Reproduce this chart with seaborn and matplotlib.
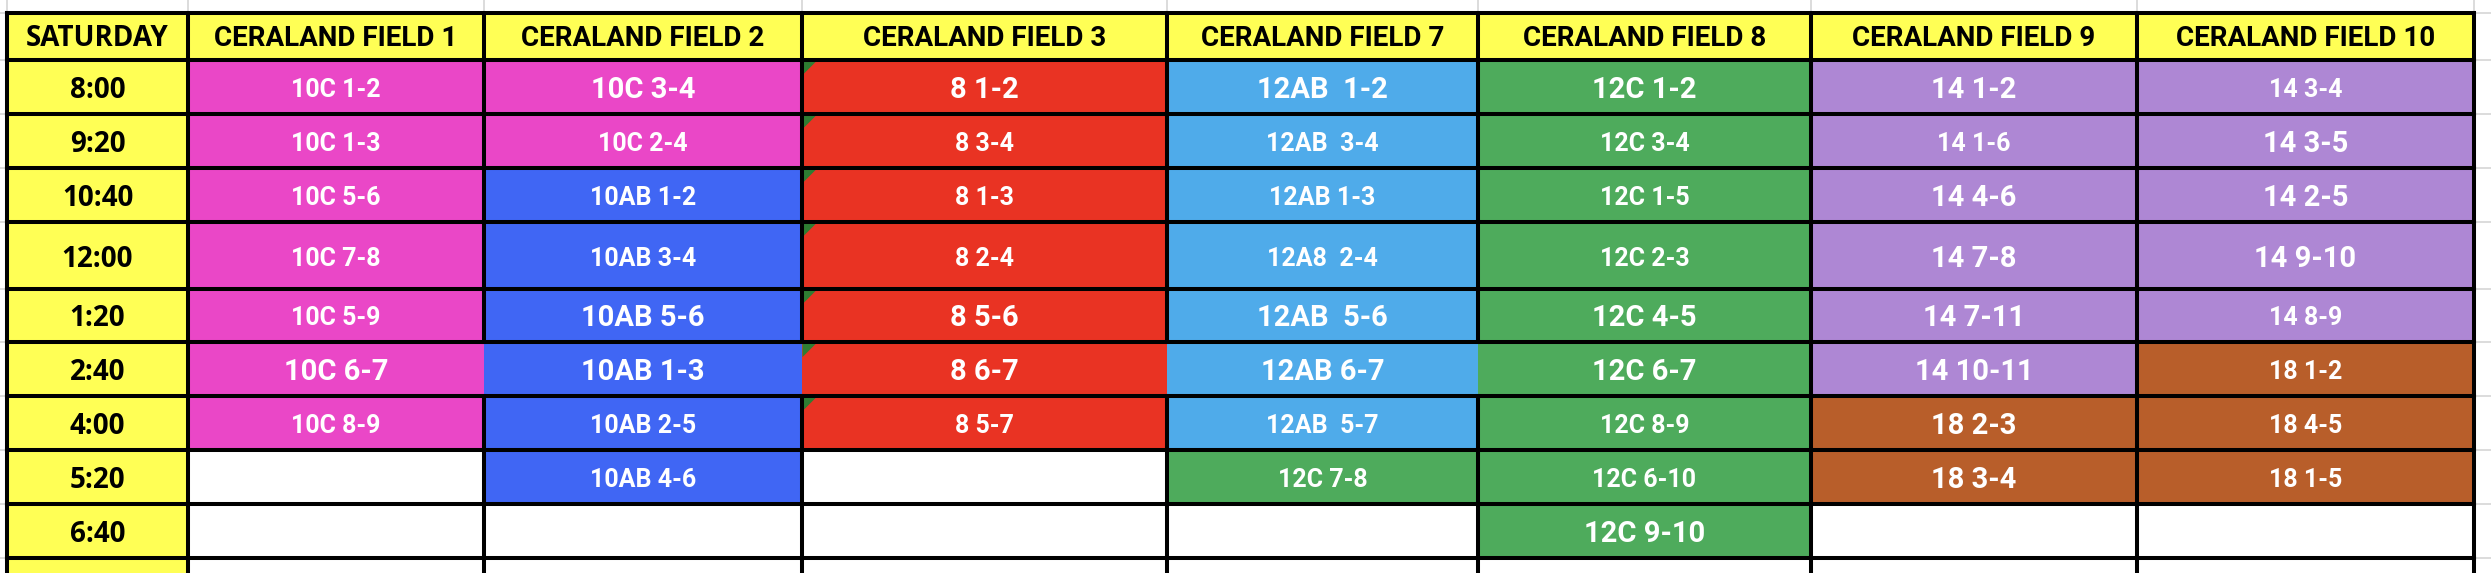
import matplotlib
matplotlib.use("Agg")
import matplotlib.pyplot as plt
import numpy as np
import seaborn as sns
from matplotlib.colors import ListedColormap
from matplotlib.path import Path

sns.set_theme(style="white")
plt.rcParams["font.family"] = ["Roboto", "DejaVu Sans"]

# --- schedule data ---
day = "SATURDAY"
fields = ["CERALAND FIELD 1", "CERALAND FIELD 2", "CERALAND FIELD 3", "CERALAND FIELD 7",
          "CERALAND FIELD 8", "CERALAND FIELD 9", "CERALAND FIELD 10"]
times = ["8:00", "9:20", "10:40", "12:00", "1:20", "2:40", "4:00", "5:20", "6:40"]

field_1 = ["10C 1-2", "10C 1-3", "10C 5-6", "10C 7-8", "10C 5-9", "10C 6-7", "10C 8-9", "", ""]
field_2 = ["10C 3-4", "10C 2-4", "10AB 1-2", "10AB 3-4", "10AB 5-6", "10AB 1-3", "10AB 2-5", "10AB 4-6", ""]
field_3 = ["8 1-2", "8 3-4", "8 1-3", "8 2-4", "8 5-6", "8 6-7", "8 5-7", "", ""]
field_7 = ["12AB  1-2", "12AB  3-4", "12AB 1-3", "12A8  2-4", "12AB  5-6", "12AB 6-7", "12AB  5-7", "12C 7-8", ""]
field_8 = ["12C 1-2", "12C 3-4", "12C 1-5", "12C 2-3", "12C 4-5", "12C 6-7", "12C 8-9", "12C 6-10", "12C 9-10"]
field_9 = ["14 1-2", "14 1-6", "14 4-6", "14 7-8", "14 7-11", "14 10-11", "18 2-3", "18 3-4", ""]
field_10 = ["14 3-4", "14 3-5", "14 2-5", "14 9-10", "14 8-9", "18 1-2", "18 4-5", "18 1-5", ""]

# 1 = bigger font in that cell
big_1 = [0, 0, 0, 0, 0, 1, 0, 0, 0]
big_2 = [1, 0, 0, 0, 1, 1, 0, 0, 0]
big_3 = [1, 0, 0, 0, 1, 1, 0, 0, 0]
big_7 = [1, 0, 0, 0, 1, 1, 0, 0, 0]
big_8 = [1, 0, 0, 0, 1, 1, 0, 0, 1]
big_9 = [1, 0, 1, 1, 1, 1, 1, 1, 0]
big_10 = [0, 1, 1, 1, 0, 0, 0, 0, 0]

games = [field_1, field_2, field_3, field_7, field_8, field_9, field_10]
bigs = [big_1, big_2, big_3, big_7, big_8, big_9, big_10]

# division colours
divisions = ["10C", "10AB", "8", "12AB", "12C", "14", "18"]
div_colors = ["#EA47C7", "#4066F4", "#E93323", "#4FABEA", "#4EAB5C", "#AE87D4", "#B85E2A"]
div_alias = {"12A8": "12AB"}
YELLOW = "#FFFF55"

# --- layout (pixel edges of the sheet cells) ---
W, H = 2491, 573
col_px = [-200, 7, 188, 484, 802, 1167, 1478, 1811, 2137, 2474, 2700]
row_px = [-200, 13, 60, 114, 168, 222, 289, 342, 396, 450, 504, 558, 612, 800]
col_idx = np.arange(-1, len(col_px) - 1, dtype=float)
row_idx = np.arange(-1, len(row_px) - 1, dtype=float)

n_cols = len(fields) + 1
n_rows = len(times) + 2  # header + times + partial row at bottom

# colour codes: 0 white, 1 yellow, 2.. divisions
codes = np.zeros((n_rows, n_cols))
codes[0, :] = 1
codes[:, 0] = 1
for c, col in enumerate(games, start=1):
    for r, g in enumerate(col, start=1):
        if g:
            d = g.split()[0]
            d = div_alias.get(d, d)
            codes[r, c] = 2 + divisions.index(d)

cmap = ListedColormap(["white", YELLOW] + div_colors)

fig = plt.figure(figsize=(W / 100, H / 100), dpi=100)
ax = fig.add_axes([0, 0, 1, 1])
ax.set_facecolor("white")

sns.heatmap(codes, cmap=cmap, vmin=-0.5, vmax=len(div_colors) + 1.5, cbar=False,
            linewidths=0, xticklabels=False, yticklabels=False, ax=ax)
ax.collections[0].set_zorder(1)

# piecewise-linear scales so the unequal sheet columns/rows keep their widths
fx = lambda v: np.interp(v, col_idx, col_px)
fx_inv = lambda p: np.interp(p, col_px, col_idx)
fy = lambda v: np.interp(v, row_idx, row_px)
fy_inv = lambda p: np.interp(p, row_px, row_idx)
ax.set_xscale("function", functions=(fx, fx_inv))
ax.set_yscale("function", functions=(fy, fy_inv))
ax.set_xlim(fx_inv(0), fx_inv(W))
ax.set_ylim(fy_inv(H), fy_inv(0))

# faint sheet gridlines outside the table
grey = "#D6D6D6"
ax.hlines(np.arange(n_rows + 1), fx_inv(0), fx_inv(W), color=grey, lw=1.2, zorder=0.5)
ax.vlines(np.arange(n_cols + 1), fy_inv(0), fy_inv(H), color=grey, lw=1.2, zorder=0.5)

# black borders (some missing in the 2:40 row)
lw = 2.9
ax.hlines(np.arange(n_rows + 1), 0, n_cols, color="black", lw=lw, zorder=3, capstyle="projecting")
missing = {(6, 2), (6, 3), (6, 4), (6, 5)}
vx, vy0, vy1 = [], [], []
for x in range(n_cols + 1):
    for r in range(n_rows):
        if (r, x) not in missing:
            vx.append(x)
            vy0.append(r)
            vy1.append(r + 1)
ax.vlines(vx, vy0, vy1, color="black", lw=lw, zorder=3, capstyle="projecting")

# excel "error" flags on Field 3
tri = Path([(0, 0), (1, 0), (0, -1), (0, 0)])
f3_rows = [r + 1 for r, g in enumerate(field_3) if g]
ax.plot([3] * len(f3_rows), f3_rows, ls="none", marker=tri, ms=21, mew=0,
        color="#2E7D32", zorder=2)

# texts
side_font = ["Open Sans", "DejaVu Sans"]
ax.text(0.5, 0.54, day, ha="center", va="center", fontsize=20, fontweight="bold",
        family=side_font, color="black", zorder=4)
for c, name in enumerate(fields, start=1):
    ax.text(c + 0.5, 0.54, name, ha="center", va="center", fontsize=20,
            fontweight="bold", color="black", zorder=4)
for r, t in enumerate(times, start=1):
    ax.text(0.5, r + 0.56, t, ha="center", va="center", fontsize=20, fontweight="bold",
            family=side_font, color="black", zorder=4)
for c, (col, big) in enumerate(zip(games, bigs), start=1):
    for r, (g, b) in enumerate(zip(col, big), start=1):
        if g:
            ax.text(c + 0.5, r + 0.55, g, ha="center", va="center",
                    fontsize=21 if b else 18, fontweight="bold", color="white", zorder=4)

ax.set_axis_off()
fig.savefig("out.png", dpi=100)
plt.close(fig)
